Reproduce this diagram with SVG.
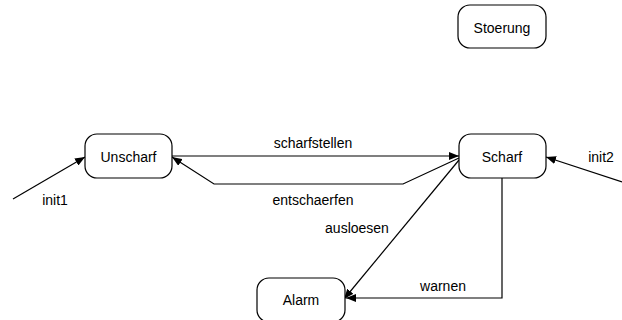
<svg xmlns="http://www.w3.org/2000/svg" width="622" height="320" viewBox="0 0 622 320">
<style>
.node{fill:#fff;stroke:#000;stroke-width:1.2}
.lbl{font-family:"Liberation Sans",Arial,sans-serif;font-size:14px;fill:#000;text-anchor:middle}
.edge{fill:none;stroke:#000;stroke-width:1.2}
</style>
<defs>
<marker id="ah" viewBox="0 0 10 8" refX="10" refY="4" markerWidth="10" markerHeight="8" markerUnits="userSpaceOnUse" orient="auto">
<path d="M0,0 L10,4 L0,8 z" fill="#000"/>
</marker>
</defs>
<rect width="622" height="320" fill="#fff"/>
<g id="connectors">
<g id="e-init1"><path class="edge" d="M13,199 L85,157" marker-end="url(#ah)"/><text class="lbl" x="55" y="205">init1</text></g>
<g id="e-init2"><path class="edge" d="M622,182 L546,157" marker-end="url(#ah)"/><text class="lbl" x="601" y="162">init2</text></g>
<g id="e-scharfstellen"><path class="edge" d="M172,156 L459,156" marker-end="url(#ah)"/><text class="lbl" x="313" y="148">scharfstellen</text></g>
<g id="e-entschaerfen"><path class="edge" d="M459,158 L403,184 L214,184 L172,157" marker-end="url(#ah)"/><text class="lbl" x="313" y="205">entschaerfen</text></g>
<g id="e-ausloesen"><path class="edge" d="M459,160 L344,299" marker-end="url(#ah)"/><text class="lbl" x="357" y="233">ausloesen</text></g>
<g id="e-warnen"><path class="edge" d="M502,178 L502,298 L346,298" marker-end="url(#ah)"/><text class="lbl" x="443" y="291">warnen</text></g>
</g>
<g id="n-stoerung"><rect class="node" x="458" y="5" width="88" height="43" rx="12"/><text class="lbl" x="502" y="33">Stoerung</text></g>
<g id="n-unscharf"><rect class="node" x="85" y="134" width="87" height="44" rx="12"/><text class="lbl" x="128.5" y="162">Unscharf</text></g>
<g id="n-scharf"><rect class="node" x="459" y="134" width="87" height="44" rx="12"/><text class="lbl" x="502" y="162">Scharf</text></g>
<g id="n-alarm"><rect class="node" x="257" y="278" width="88" height="44" rx="12"/><text class="lbl" x="301" y="305">Alarm</text></g>
</svg>
